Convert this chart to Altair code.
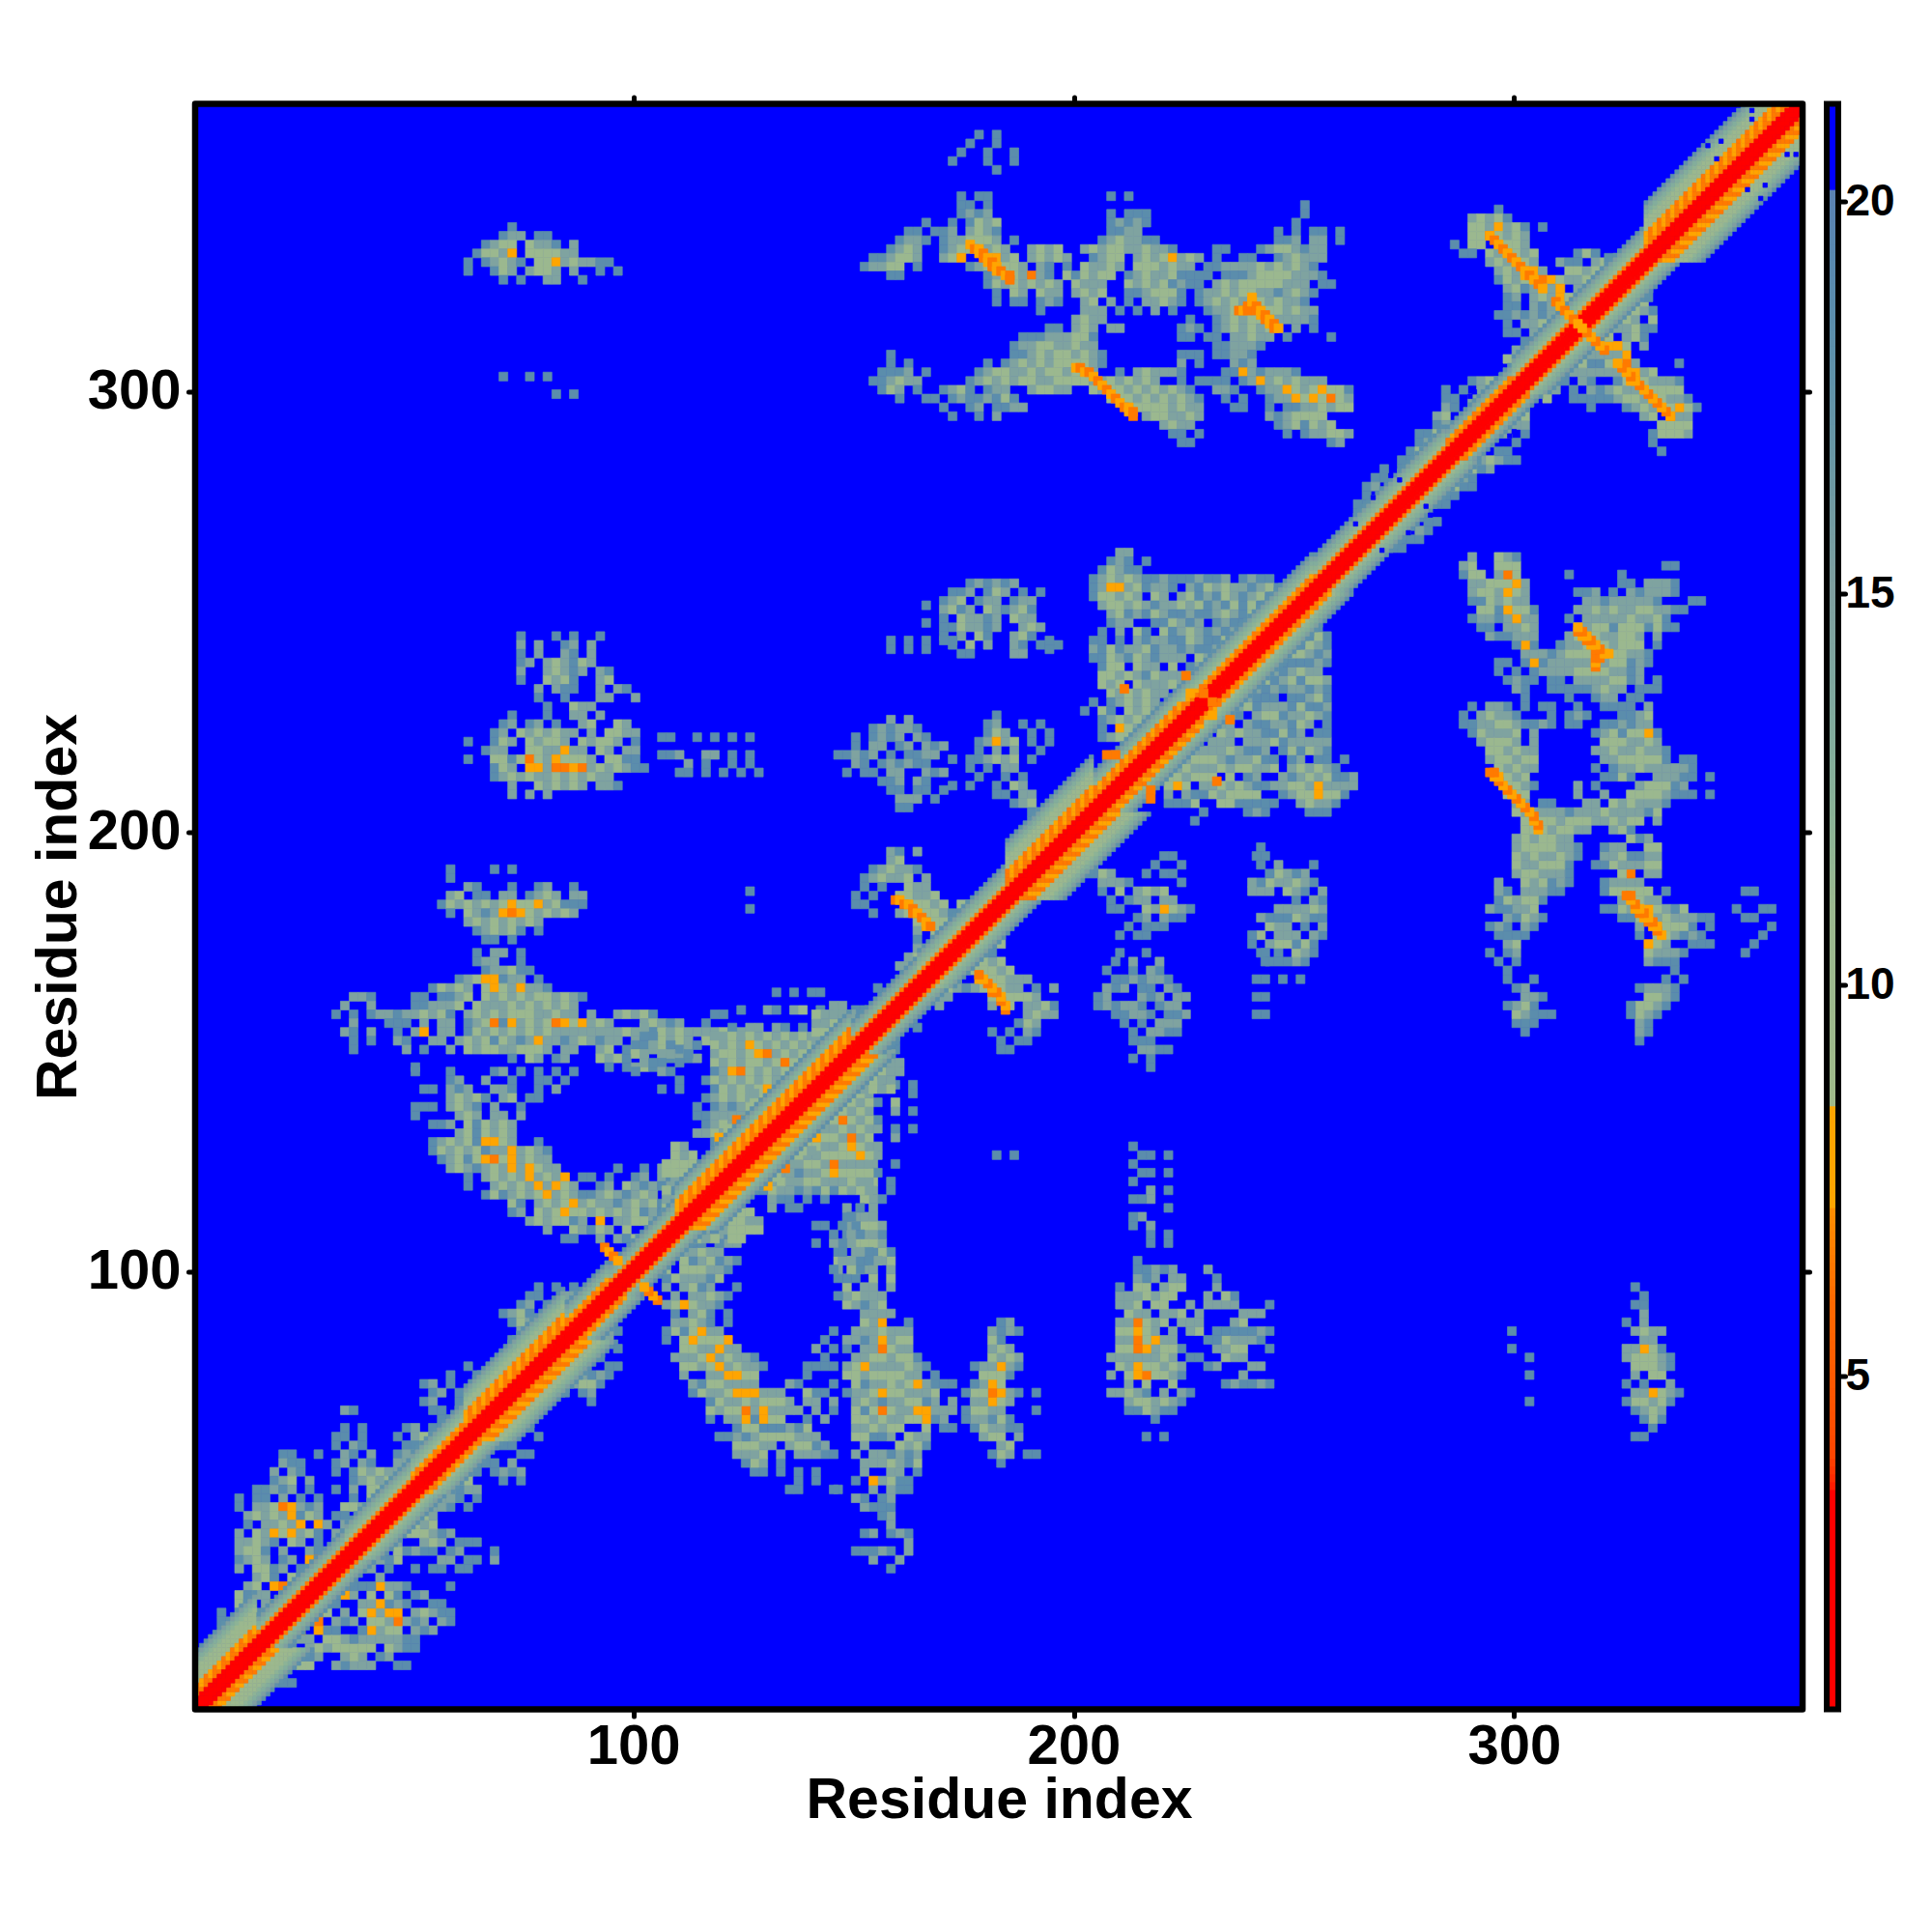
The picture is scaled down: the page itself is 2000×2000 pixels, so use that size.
import altair as alt

alt.data_transformers.disable_max_rows()

FONT = "Liberation Sans"
TICKS_MAIN = [100, 200, 300]
TICKS_BAR = [5, 10, 15, 20]
RANGE_MAIN = [0.5, 365.5]
RANGE_BAR = [0.75, 21.25]
AXIS_TITLE = "Residue index"

SCALE_STOPS = [0.75, 3.5, 4.0, 6.0, 7.1, 7.15, 8.45, 8.46, 11.0, 15.0, 20.1, 20.11, 21.25]
SCALE_COLORS = ["#FF0000", "#FF0000", "#FF4500", "#FF6A00", "#FF8C00", "#FFA500", "#FFA500",
                "#A0BA8A", "#9BB88F", "#7F9FA0", "#5B82B2", "#0000FF", "#0000FF"]
CHAR_VALUE = {"s": 18.5, "m": 14.5, "g": 11.0, "o": 8.0, "r": 6.5}
CORE_VALUE = 2.0
BAND_OUTER = [18.0, 15.0, 13.0, 12.0, 11.0, 10.5, 10.0, 9.5, 9.5, 9.5, 9.5, 9.5, 9.5, 9.5, 9.5]
BAR_LEVELS = [0.75 + 0.1 * k for k in range(205)]

# diagonal band: first residue, last residue, orange half width, outer half width
BAND = [(1, 15, 5, 13), (15, 35, 3, 7), (35, 50, 3, 8), (50, 62, 4, 9), (62, 85, 6, 12), (85, 95, 4, 8),
        (95, 110, 3, 7), (110, 150, 6, 10), (150, 165, 3, 7), (165, 185, 3, 8), (185, 205, 6, 13),
        (205, 225, 5, 9), (225, 255, 4, 9), (255, 285, 3, 8), (285, 300, 4, 7), (300, 330, 3, 8),
        (330, 366, 6, 13)]

# patches above the diagonal, read row by row: first residue, top row, rows (two residues a character)
BLOBS = [
 (62, 337, ["     s", "    smm ss", "  smgg gmms m", " sggmo ggggmm", "s smgms ggomgmmss",
            "s  sgm mggm m  s s", "    s s  mm  s"]),
 (70, 303, ["s  s s", "      ", "      s s"]),
 (170, 358, ["    s s", "   s  s", "  s  s  s", " s   s  s", "      s"]),
 (152, 344, [
  "           s ss             s s",
  "           ss s                                   s",
  "           smsm             s sss                 s",
  "       s  s sgmg            smsms                s",
  "     ss ssm mgms            ssmm               s s ss s",
  "    smms smmgggm s         smgmmss             ssm mm s",
  "   smgm  smgggmgm  mgmg  mgmggmmgmms    ss   smggmsmm",
  " ssmggm  mgo  gomg mgmgm  smgg mgmgomgm s  ss  smgmmm",
  "smmgg s     smggggm ms s gmmgm gggmgmm ssmmmmgmgmgms",
  "   ss         smggmrms gsgmgg smgmmgssss sssmggggmmms",
  "              sgmgmgmgm gmmm  gmgmgsmss mgmgggggmmm ss",
  "               s gm gmm mgmg  ssmgggs smmgmggmmsmgms",
  "               s ss sms  mg m s mmgms smgmgmmgmgmms",
  "                    s    mmm s s m s   smmgmgmggmgmm",
  "                        mgmm         s  smgmggmmmmms",
  "                     ss mgm mm      sms smgmgmgm m s",
  "                  sssmmmggs         ss ss mmgmm s    s",
  "                 smmggmmgmm             ssmmms",
  "   s             ssmgmggmgms        sss ssmms",
  "   s s        s smgmgmggggms        m s   msm",
  "  sssm s     smggmmgmggmgmm  s mgmmms    ssomsmmms",
  " ssmgmm     smgmgmggmmggggmmgmgmgm  s ssss smomgmgmmm",
  "  sgm s  smgs smm  mggmm  gmggmgmgmgms  mms  smmogmgoggs",
  "    s  ss smssmsgs          gggmgmgmgms  s s  smmogogrgm",
  "         s  sm ssmm           mggggmgmm   ss  s ssmmgmgg",
  "          s  s m                mggmmgm       msmgggg",
  "                                  mgmm         smgsgmg",
  "                                   ss s         s smmggm",
  "                                    ss               sm"]),
 (170, 256, ["   smsmsm", " ssm sgm s s", "smg smm smm", "mgsm gmsmgs", "s gmmsm gmm", "ssgmmsm  mgm",
             "s m gs  mgs", " s g m  ms s s", "  ss    mm"]),
 (158, 243, ["s s s ss", "s s s"]),
 (166, 251, ["s", " ", "s"]),
 (194, 243, ["s", "s"]),
 (202, 263, [
  "    mm", "   sms s", "  sgmss", " smgmgmssmsssmssm smss", " smoomgsmms msgmgmmsmgs",
  " sggmgm gm mgsmsgmsmgsm s", "  mggmgmsmmgmgsmsgsgsm m", "   mgsmsgmssmssmgmsgsg",
  "   smm  ssgmsm smssmmg", "  s m gs gsmgmsmsmsgmg", " ss s msmmssgmssgmgmgro",
  " msgsmmgsmmsmssmom gmo", " ssgmsgmsmmm gmgmgo", "  sgg gmm g smgogr", "  ggmgmsgmmmgmggo",
  "  gmg gmmmgmgm g", "   gmgmgmm g", " s smgmgm gm", "s gs gmgmm", "  smgmgm", "  s ogm", "  smgg"]),
 (62, 244, ["      s   s s  s", "      m m  sm m", "      s m  ms m", "      sm mgmsgm", "      m  mgmsm ms",
            "      s  gmgs  mg", "        m mss  m ms", "        s  s   mm  m", "         s  gmm",
            "     s   s  mm m", "    sm sm s  mg  gm", "   sm gmgmgmm m ggmm", "s  sgm gmggm gmggm s",
            "  smm  ggmmomm gm mm", "s  ggsgrgmogggm ggss", "   sgm oomrrormgmgmss", "   smgmgmmgmgmgmm",
            "     m  gmgmgm mms", "     m m m"]),
 (104, 221, [" ss  s s s s", "            ", " ssm  mm s s", "    m s  s s", "   ss s s s s"]),
 (146, 225, ["      m m", "    smsmms", "  s smsm ms", "  s mm sm msm", "ssmsm s ssmm", "  ms smsmss",
             " s ss mm  msm", "     ssm ms", "      ss ss s", "       mmm s", "       ss"]),
 (172, 226, ["     s", "    sm  s s", "    sgm  s s", "   smomg s s", "   s m m  s", "s ssmgmg s", "  s s mm",
             "   s  s s", "s s  s gm", "     ss mm", "       smg", "         smm"]),
 (56, 191, [" s    s s", " s", "   ms   s  sm  s", " mg ss mm smgm mm", "sgmgmgmgoggomgsss", " s gmsmorogmgmgm",
            "   mgmgmgmgm", "    smgmgs s", "     ss s"]),
 (126, 186, ["s", " ", "s"]),
 (32, 172, [
  "                s mm s", "                smm  s", "                 smmgss", "              smgoosmm s",
  "           sgmgm gogmomms", "  mms    ss ssmg gmgmgmggmgms", " m  m    ssmmmg gmmmgmgmgmgm",
  "s s smmsmmgmgs mgmgmgggmmgmm m  mgmgs      ss", "  m   sss m mm smgrsomgmgrogomgm   mgmsm  s",
  " ms m  s mo mm sgmgmgmgmgmmmmmmmmgmgsgmgmmmmgmmm", "  s s  ms  mm mgmgsgmsmommsmgmsmm m mgmgm gmm",
  "  s     m s  m gmggmmgggm mm  mg sgsmg sm", "                    s gm sm   gmgs s ssmsm",
  "         s                     s smgs"]),
 (50, 145, [
  "s   s    sm s s s s", "    sm  m  s  ss s", " ss msm  mms  s m", "    mgmgs mg ss", "sss mgms m  s",
  "s    mgm mm m", "  ssm gsgmgm", "     mgsgmgm", "  smgmgsoogm  s", "  sgmgmgsmmomgms", "   smgsgorgomgmm",
  "    mgmsmgmomogmm      s  s ms", "      s mgmgmomgmo ss s  sm ms", "      s  mgmgmomogm  sm gmsmsm s sm",
  "        sgsmgmgomgmssmgmsmgm  mgmgms", "           gs mgmgomgmmsmgmgsmmggmgm",
  "           sm gmgoggmgmgmgsmsgsmgmggmgg", "             mgmggsm o mmggmmgsmsmggggmm",
  "               m  gmsgm g  gggmssmsmgggg", "                 ss  m msgggmgmsgmg gg"]),
 (100, 163, [
  "                s s ss", "", "            s  ms mg s s ss", "", " m         s mm ms s m ss m s s s",
  " ss      mmgmgmgmgmgmgmm s m m", "ssm s  s gmgmogmgmgmgmmsmg  ss", "gm mm s  mggmgormgmgm gm g mgm",
  " mss s   gmgmggmgrggmmgm gg gmm", "s  ms    smorgmgmgg gmgmgmgmgmm", "     s  sgmgmgmgmgmrgmgmgmggmm",
  "   s s   sgmgmgoggmgggmgmgmgmg", "        smgmgmgggmgmgmgmg", "       s smsmgmgmgogmgm", "       ssmmmmgmgmgmogm",
  "        smgmgmmgmgomg", "       mmgmgmgmgmgm", "         sm sm gmgmo", "          s m gg mggm", "         ssmgmgmgo",
  "        sgmgmggmgr", "        smgmgmgog", "       smggmgmgo", "      mgmggmg", "     mgmggmg", "    ssggmo"]),
 (150, 195, ["    ms m", "    mg", "  smgmms", " smgmmg m", " s s  gmm", "s s  ggmmg", "ss    gggmg gm", "  s  mggggms m",
             "       gmggmgmg s", "       m gmmgog", "       s gmsg m", "       mg ogg", "      mgrg", "     mmor", "       m"]),
 (10, 68, [
  "            ms", "", "            s s", "           ss s     s s", "           s ms    s s", "     ss  s  ms m  s ms",
  "     mss   sm ms  mm", "    m ms   s sgmgmm", "    smg m    smgmgmgo", "  ssmsm s  s m gggmo", "s ss m s s   s ggmgo",
  "s mmgromsm  ggmmgo", " mgmgmosgm ss m go", " s mmgmo om mgg", "m gmogomgs m go", "mmgms gm s g", "mggs m  ms",
  "smgm sm orog", "m ggsm s g", "  mgs gs", " mg orom", "gsmm og", "gs mo"]),
 (2, 22, ["  s   smm  mg", "  s s mgg", "    ss g", "     m"]),
 (44, 80, ["             sm", "         s   mgg", "       s  ss  mg", "    sm s  gmgg", "     sm s gmg", "    sm  ss gm",
           "     ss m m g", "      s  gm", "  sm s gm", " s mgmgo", "  ssgmgo", "  mmgo"]),
 (70, 96, ["    s s s", "   ss  mms", "  sm s s ms", "smgs ss smg", " sgm   s mgo", "  ms  s ooo", " sm ss mgo", "  ss mg"]),
 (260, 302, ["               smgm", "            s s mgg", "            ss mgmg", "            ms s mgm", "           mg m m g",
             "           sm s mm", "         ssg s mg", "         smg ss g", "        sg  ss mg", "       ss  m m",
             "     s sm  ssg", "    ss s m mg", "   sm ss sgm", "   s s  mg", "  ssm mgm", "  sm gmg"]),
 (286, 341, ["     s", "  mgmgs", "  ggmomgs s", "  ggrgmgm", "s gg oggm", " ss gmogmg    sgs  sm", "    mgmogm  mss mgsmgmm",
             "     mgmrom  ggmgmgmgm", "     sgmgorogmmgmmgmgms", "      mgsmgmo mmmsgmgmm", "      sm mgmogm s gmmgs",
             "      ss msmgorom gom", "     ssmsmsmmrogr", "      s mmgmmgmorr", "      ss mm s mgmo", "        s m mgo",
             "       ms m go", "      gg go"]),
]

# orange cells along the arms of the crosses and isolated orange spots
ARM_X = [176, 177, 178, 178, 179, 179, 180, 180, 181, 181, 182, 182, 183, 184, 185, 185,
         200, 201, 202, 203, 204, 205, 206, 207, 208, 209, 210, 211, 212, 212, 213, 213,
         237, 238, 239, 239, 240, 240, 241, 241, 242, 242, 243, 243, 244, 244, 245, 245, 246,
         294, 295, 296, 297, 298, 299, 300, 301, 302, 302, 303, 304, 305, 306,
         309, 310, 311, 312, 313, 314,
         159, 160, 161, 162, 163, 163, 164, 165, 166, 166, 167,
         93, 94, 95, 96,
         211, 225, 226, 229, 209, 207]
ARM_Y = [334, 333, 333, 332, 332, 331, 331, 330, 330, 329, 329, 328, 328, 327, 327, 326,
         306, 306, 305, 305, 304, 303, 302, 301, 300, 299, 298, 297, 296, 297, 296, 295,
         319, 319, 319, 320, 321, 322, 320, 319, 319, 318, 318, 317, 317, 316, 316, 315, 315,
         336, 335, 334, 333, 332, 331, 330, 329, 328, 327, 327, 326, 325, 324,
         321, 320, 319, 318, 317, 316,
         185, 185, 184, 184, 183, 182, 182, 181, 180, 179, 179,
         106, 105, 104, 103,
         233, 236, 232, 232, 218, 218]

# gaps seen inside the band's fringe
HOLE_X = [354, 354, 347, 344, 346, 274, 264, 272, 268, 291, 296, 290]
HOLE_Y = [364, 362, 357, 356, 353, 280, 270, 281, 276, 300, 305, 299]

cells = []


def add(x0, x1, y0, y1, v):
    cells.append({"x": x0, "x2": x1, "y": y0, "y2": y1, "v": v})
    cells.append({"x": y0, "x2": y1, "y": x0, "y2": x1, "v": v})


for x0, top, rows in BLOBS:
    for k, row in enumerate(rows):
        for c, ch in enumerate(row):
            if ch != " ":
                xx = x0 + 2 * c
                yy = top - 2 * k
                add(xx - 0.5, xx + 1.5, yy - 0.5, yy + 1.5, CHAR_VALUE[ch])

for first, last, orange, outer in BAND:
    for x in range(first, last):
        for d in range(outer, -1, -1):
            y = x + d
            if y > 365:
                continue
            if d <= 2:
                v = CORE_VALUE
            elif d == 3:
                v = CHAR_VALUE["r"]
            elif d <= orange:
                v = CHAR_VALUE["o"] if (x % 2 == 0) else CHAR_VALUE["r"]
            else:
                v = BAND_OUTER[outer - d]
            add(x - 0.5, x + 0.5, y - 0.5, y + 0.5, v)

for ax, ay in zip(ARM_X, ARM_Y):
    add(ax - 0.5, ax + 1.5, ay - 1.5, ay + 0.5, CHAR_VALUE["r"] if ax % 2 else CHAR_VALUE["o"])

for hx, hy in zip(HOLE_X, HOLE_Y):
    add(hx - 0.5, hx + 0.5, hy - 0.5, hy + 0.5, 21.0)

color_scale = alt.Scale(domain=SCALE_STOPS, range=SCALE_COLORS, type="linear", clamp=True)
xs = alt.Scale(domain=RANGE_MAIN, nice=False, zero=False)
ys = alt.Scale(domain=RANGE_MAIN, nice=False, zero=False)
frame_row = alt.Data(values=[{"a": RANGE_MAIN[0], "b": RANGE_MAIN[1]}])

axis_common = dict(values=TICKS_MAIN, domain=False, grid=False, tickColor="black", tickWidth=5, tickSize=7,
                   tickCap="round", labelFont=FONT, labelFontWeight="bold", labelFontSize=58, labelColor="black",
                   titleFont=FONT, titleFontWeight="bold", titleFontSize=59, titleColor="black")

background = alt.Chart(frame_row).mark_rect(color="#0000FF").encode(
    x=alt.X("a:Q", scale=xs, axis=alt.Axis(orient="bottom", title=AXIS_TITLE, labelPadding=3, titlePadding=-3, **axis_common)),
    x2="b:Q",
    y=alt.Y("a:Q", scale=ys, axis=alt.Axis(orient="left", title=AXIS_TITLE, labelPadding=8, titlePadding=0, **axis_common)),
    y2="b:Q",
)
map_cells = alt.Chart(alt.Data(values=cells)).mark_rect(strokeWidth=0.7).encode(
    x=alt.X("x:Q", scale=xs, axis=None),
    x2="x2:Q",
    y=alt.Y("y:Q", scale=ys, axis=None),
    y2="y2:Q",
    color=alt.Color("v:Q", scale=color_scale, legend=None),
    stroke=alt.Stroke("v:Q", scale=color_scale, legend=None),
)
plain = dict(values=TICKS_MAIN, domain=False, grid=False, labels=False, title=None, tickColor="black",
             tickWidth=5, tickSize=7, tickCap="round")
frame = alt.Chart(frame_row).mark_rect(fillOpacity=0, stroke="black", strokeWidth=6.5, strokeJoin="round").encode(
    x=alt.X("a:Q", scale=xs, axis=alt.Axis(orient="top", **plain)),
    x2="b:Q",
    y=alt.Y("a:Q", scale=ys, axis=alt.Axis(orient="right", **plain)),
    y2="b:Q",
)
main = alt.layer(background, map_cells, frame).resolve_axis(x="independent", y="independent").properties(
    width=1664, height=1662)

bar_rows = [{"lo": lv, "hi": min(lv + 0.14, RANGE_BAR[1]), "v": lv + 0.05} for lv in BAR_LEVELS]
bar_y = alt.Scale(domain=RANGE_BAR, nice=False, zero=False)
bar_cells = alt.Chart(alt.Data(values=bar_rows)).mark_rect(strokeWidth=0).encode(
    x=alt.value(0), x2=alt.value(12),
    y=alt.Y("lo:Q", scale=bar_y, axis=None),
    y2="hi:Q",
    color=alt.Color("v:Q", scale=color_scale, legend=None),
)
bar_frame = alt.Chart(alt.Data(values=[{"lo": RANGE_BAR[0], "hi": RANGE_BAR[1]}])).mark_rect(
    fillOpacity=0, stroke="black", strokeWidth=6).encode(
    x=alt.value(0), x2=alt.value(12),
    y=alt.Y("lo:Q", scale=bar_y, axis=alt.Axis(orient="right", values=TICKS_BAR, domain=False, grid=False, title=None,
            tickColor="black", tickWidth=5, tickSize=7, tickCap="round", labelFont=FONT, labelFontWeight="bold",
            labelFontSize=46, labelColor="black", labelPadding=0)),
    y2="hi:Q",
)
bar = alt.layer(bar_cells, bar_frame).resolve_axis(y="independent").properties(width=12, height=1662)

chart = alt.hconcat(main, bar, spacing=12).properties(
    padding={"left": 23, "top": 89.5, "right": 5, "bottom": 5}
).configure_view(stroke=None).resolve_scale(color="shared")

chart.save("out.html", embed_options={"renderer": "svg", "actions": False})
